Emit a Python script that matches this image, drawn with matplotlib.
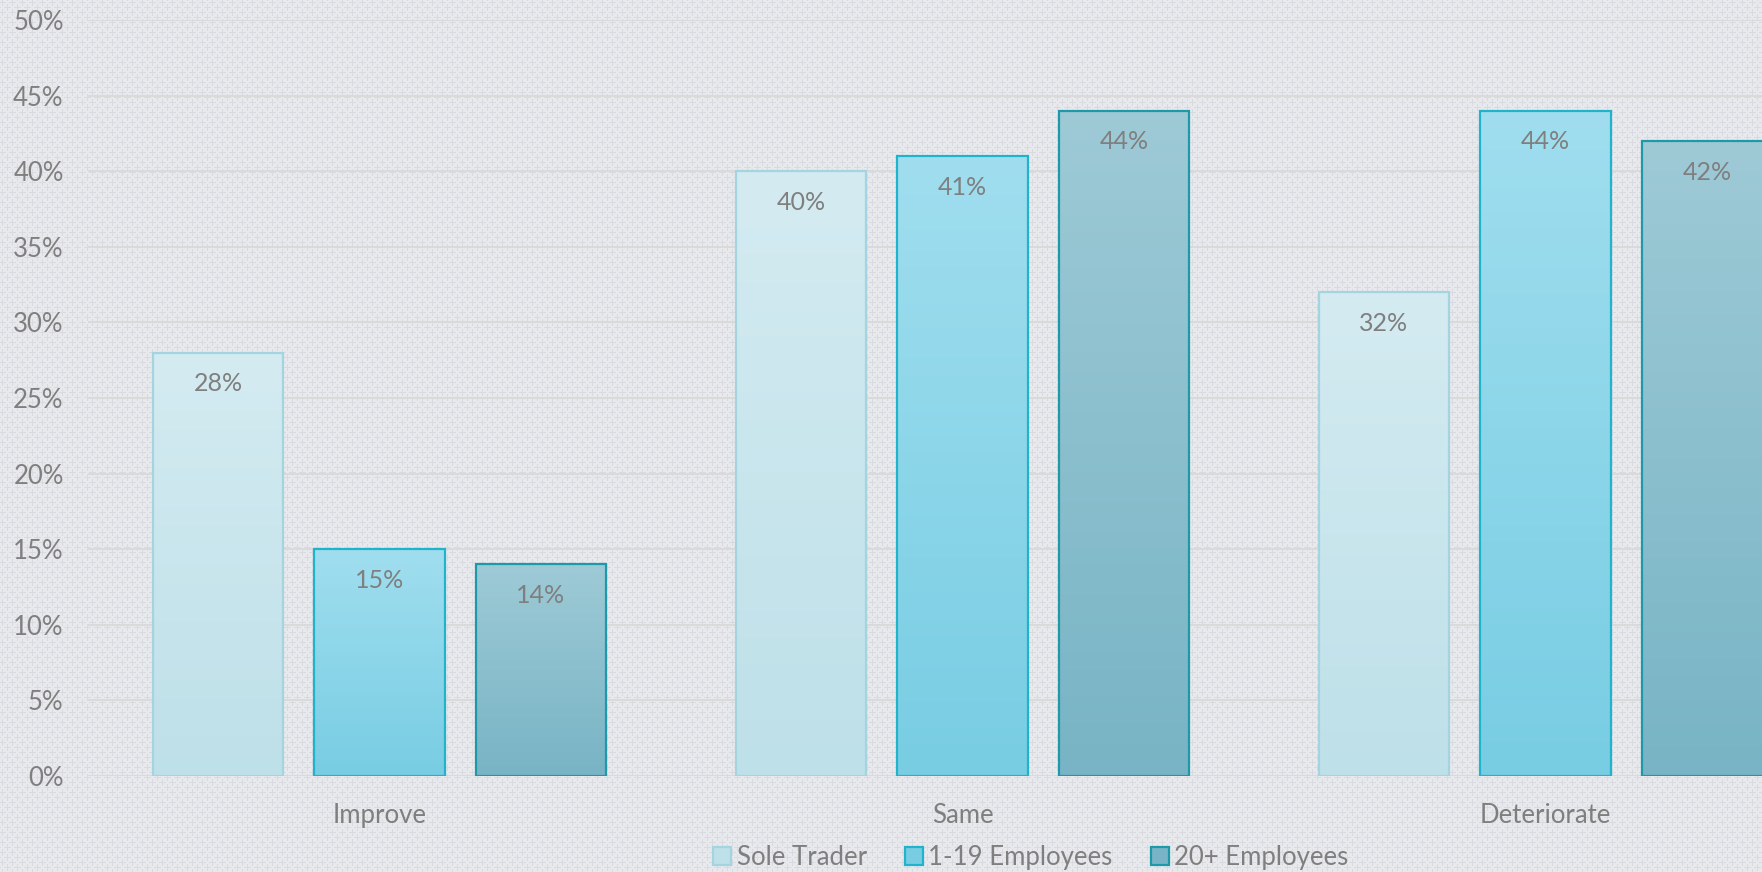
import numpy as np
import matplotlib
matplotlib.use('Agg')
from matplotlib import pyplot as plt
from matplotlib.colors import to_rgb
from matplotlib.patches import Patch

categories = ['Improve', 'Same', 'Deteriorate']
series = ['Sole Trader', '1-19 Employees', '20+ Employees']
sole_trader = [28, 40, 32]
employees_1_19 = [15, 41, 44]
employees_20 = [14, 44, 42]
yticks = [0, 5, 10, 15, 20, 25, 30, 35, 40, 45, 50]

top_colors = ['#d4ebf1', '#a0deef', '#9ecad6']
bottom_colors = ['#bee0e9', '#78cde3', '#78b4c5']
edge_colors = ['#a3d4e0', '#1fb4cb', '#1e99aa']
text_color = '#7f7f7f'

plt.rcParams['font.family'] = ['Lato', 'DejaVu Sans']

W, H = 1762, 872
fig = plt.figure(figsize=(W / 100, H / 100), dpi=100)

# textured backdrop: small staggered plus signs
yy, xx = np.mgrid[0:H, 0:W]
bg = np.ones((H, W, 3)) * np.array(to_rgb('#e8e9ec'))
plus_col = np.array(to_rgb('#d9dae0'))
for cx, cy in [(2, 2), (7, 7)]:
    dx = (xx - cx) % 10
    dy = (yy - cy) % 10
    dx = np.where(dx > 5, dx - 10, dx)
    dy = np.where(dy > 5, dy - 10, dy)
    mask = ((dy == 0) & (np.abs(dx) <= 3)) | ((dx == 0) & (np.abs(dy) <= 3))
    bg[mask] = plus_col
fig.figimage(bg, 0, 0, zorder=-10, origin='upper')

left = 88 / W
width = 1749 / W
bottom = 1 - 776 / H
top = 1 - 20 / H
ax = fig.add_axes([left, bottom, width, top - bottom])
ax.patch.set_alpha(0)

bar_w = 0.224
step = 0.277
x = np.arange(len(categories))
data = [sole_trader, employees_1_19, employees_20]

for j, vals in enumerate(data):
    xs = x + (j - 1) * step
    bars = ax.bar(xs, vals, bar_w, facecolor='none', edgecolor=edge_colors[j],
                  linewidth=1.6, zorder=3)
    t = np.linspace(0, 1, 256)[:, None]
    c0 = np.array(to_rgb(top_colors[j]))
    c1 = np.array(to_rgb(bottom_colors[j]))
    grad = (c0 * (1 - t) + c1 * t)[:, None, :]
    for rect, v, xc in zip(bars, vals, xs):
        im = ax.imshow(grad, extent=[xc - bar_w / 2, xc + bar_w / 2, 0, v],
                       aspect='auto', origin='upper', zorder=2)
        im.set_clip_path(rect)
        ax.annotate(f'{v}%', (xc, v), xytext=(0, -22.5), textcoords='offset points',
                    ha='center', va='center', fontsize=18, color=text_color, zorder=4)

ax.set_xlim(-0.5, 2.5)
ax.set_ylim(0, 50)
ax.set_yticks(yticks)
ax.set_yticklabels([f'{v}%' for v in yticks])
ax.set_xticks(x)
ax.set_xticklabels(categories)
ax.tick_params(axis='y', length=0, pad=17.5, labelsize=18.5, labelcolor=text_color)
ax.tick_params(axis='x', length=0, pad=19.5, labelsize=18.5, labelcolor=text_color)
ax.grid(axis='y', color='#d9d9d9', linewidth=1.3, zorder=0)
ax.set_axisbelow(True)
for s in ax.spines.values():
    s.set_visible(False)

handles = [Patch(facecolor=bottom_colors[j], edgecolor=edge_colors[j], linewidth=1.6)
           for j in range(3)]
fig.legend(handles, series, loc='center', bbox_to_anchor=(1031 / W, 1 - 857 / H),
           ncol=3, frameon=False, fontsize=18.5, labelcolor=text_color,
           handlelength=0.7, handleheight=0.7, handletextpad=0.2, columnspacing=1.5)

fig.savefig('out.png', dpi=100)
